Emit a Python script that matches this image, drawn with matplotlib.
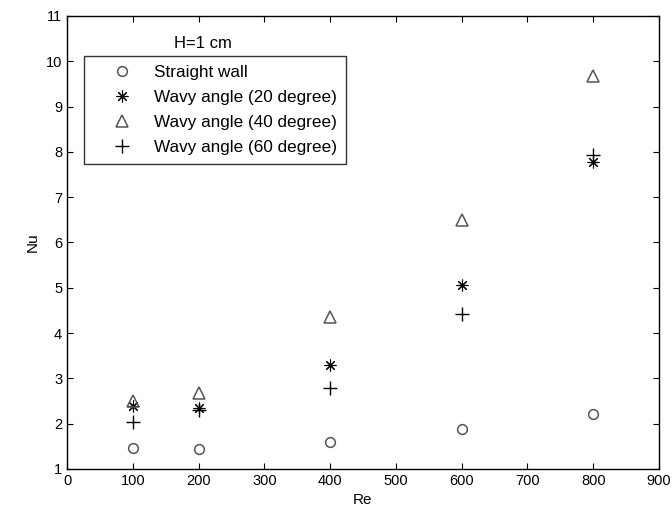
import numpy as np
import matplotlib
matplotlib.use('Agg')
import matplotlib.pyplot as plt

plt.rcParams['font.family'] = ['Liberation Sans', 'DejaVu Sans']

# Re values
re = [100, 200, 400, 600, 800]

# Nu values
nu_straight = [1.47, 1.45, 1.60, 1.88, 2.22]
nu_wavy20 = [2.39, 2.35, 3.30, 5.06, 7.78]
nu_wavy40 = [2.50, 2.68, 4.35, 6.50, 9.68]
nu_wavy60 = [2.04, 2.30, 2.78, 4.42, 7.93]

labels = ['Straight wall', 'Wavy angle (20 degree)',
          'Wavy angle (40 degree)', 'Wavy angle (60 degree)']
x_ticks = list(range(0, 1000, 100))
y_ticks = list(range(1, 12))

fig = plt.figure(figsize=(6.72, 5.14), dpi=100)
ax = fig.add_axes([67 / 672, 1 - 469 / 514, (659 - 67) / 672, (469 - 16) / 514])

gray = '#555555'
ax.plot(re, nu_straight, linestyle='none', marker='o', markersize=7,
        markerfacecolor='none', markeredgecolor=gray, markeredgewidth=1.1, label=labels[0])
ax.plot(re, nu_wavy20, linestyle='none', marker=(8, 2, 0), markersize=8.5,
        color='black', markeredgewidth=0.8, label=labels[1])
ax.plot(re, nu_wavy40, linestyle='none', marker='^', markersize=8,
        markerfacecolor='none', markeredgecolor=gray, markeredgewidth=1.1, label=labels[2])
ax.plot(re, nu_wavy60, linestyle='none', marker='+', markersize=10,
        color='black', markeredgewidth=1.0, label=labels[3])

ax.set_xlim(0, 900)
ax.set_ylim(1, 11)
ax.set_xticks(x_ticks)
ax.set_yticks(y_ticks)
ax.tick_params(direction='in', top=True, right=True, length=4, labelsize=10.5)
for s in ax.spines.values():
    s.set_linewidth(1.0)
ax.set_xlabel('Re', fontsize=11)
ax.set_ylabel('Nu', fontsize=11)

leg = ax.legend(loc='upper left', bbox_to_anchor=(17 / 592, 1 - 40 / 453),
                borderaxespad=0, fontsize=12.3, frameon=True, fancybox=False,
                edgecolor='black', handletextpad=0.1, borderpad=0.5,
                labelspacing=0.6, handlelength=3.5)
leg.get_frame().set_linewidth(1.0)
ax.text((203 - 67) / 592, 1 - 28 / 453, 'H=1 cm', transform=ax.transAxes,
        ha='center', va='center', fontsize=12)

fig.savefig('out.png', dpi=100)
